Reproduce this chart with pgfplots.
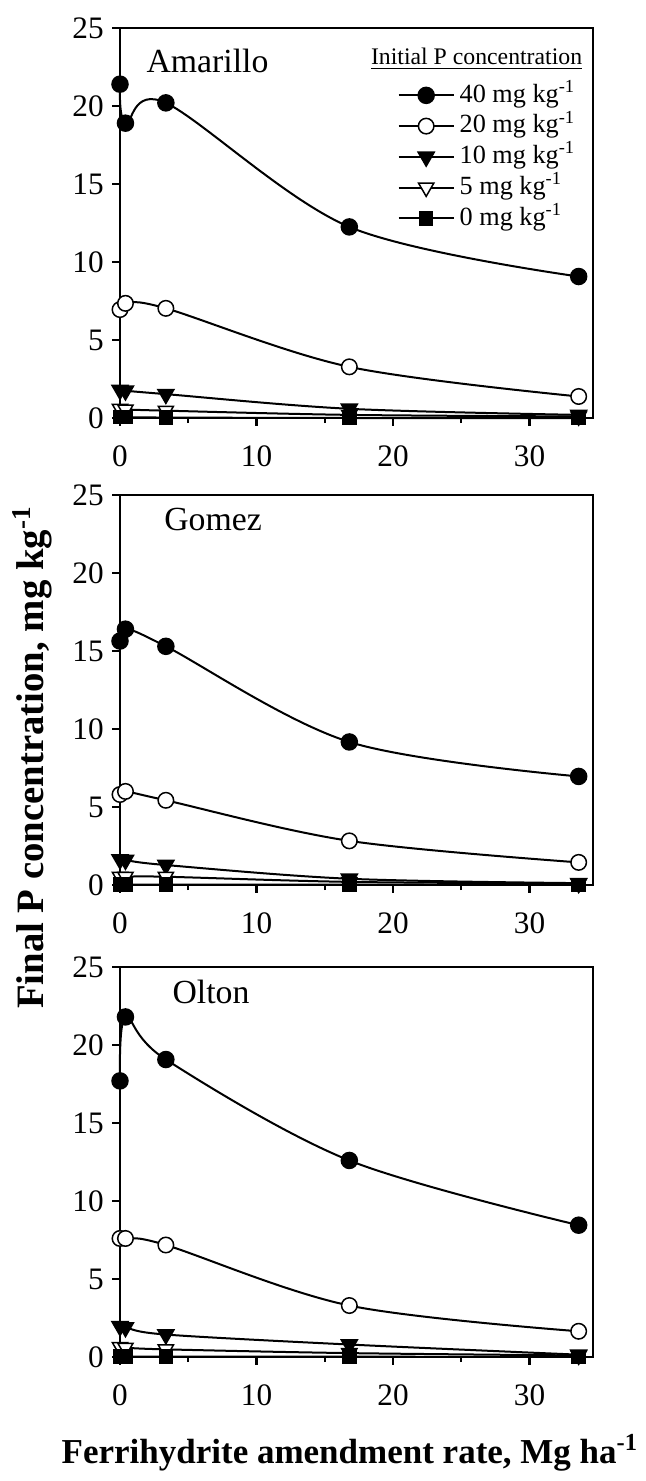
\documentclass[border=0pt]{standalone}
\usepackage{fontspec}
\setmainfont{Liberation Serif}
\usepackage{pgfplots}
\usepackage{pgfplotstable}
\pgfplotsset{compat=1.18}

% final P (mg/kg) vs ferrihydrite rate (Mg/ha), one table per soil
\pgfplotstableread{
x     c40    c20   c10   c5    c0
0     21.40  6.95  1.80  0.59  0.05
0.4   18.90  7.35  1.75  0.55  0.05
3.36  20.20  7.03  1.53  0.47  0.03
16.8  12.25  3.28  0.59  0.20  0.00
33.6   9.07  1.38  0.20  0.10  0.00
}\amarillo
\pgfplotstableread{
x     c40    c20   c10   c5    c0
0     15.64  5.80  1.64  0.53  0.03
0.4   16.40  6.00  1.60  0.53  0.03
3.36  15.30  5.43  1.28  0.53  0.03
16.8   9.17  2.83  0.40  0.20  0.02
33.6   6.96  1.45  0.12  0.10  0.01
}\gomez
\pgfplotstableread{
x     c40    c20   c10   c5    c0
0     17.70  7.60  1.97  0.64  0.03
0.4   21.80  7.60  1.90  0.60  0.03
3.36  19.07  7.18  1.44  0.49  0.03
16.8  12.60  3.30  0.80  0.25  0.02
33.6   8.45  1.65  0.15  0.10  0.01
}\olton

\pgfplotsset{
  panel/.style={
    anchor=north west, scale only axis, width=189.2pt, height=156pt,
    xmin=0, xmax=34.65, ymin=0, ymax=25,
    xtick={0,10,20,30}, minor xtick={5,15,25}, ytick={0,5,...,25},
    xtick pos=bottom, ytick pos=left, tick align=outside,
    major tick length=3pt, minor tick length=2pt,
    every tick/.style={black, line width=0.9pt},
    axis line style={line width=0.9pt},
    ticklabel style={font=\fontsize{12.5}{14}\selectfont},
    xticklabel style={yshift=-4.5pt},
    /pgf/number format/assume math mode=true,
    clip=false,
    every axis plot/.append style={black, line width=0.8pt, smooth, tension=0.55},
  },
  s40/.style={mark=*, mark size=3.1pt, mark options={fill=black}},
  s20/.style={mark=*, mark size=3.1pt, mark options={fill=white, line width=0.6pt}},
  s10/.style={mark=triangle*, mark size=3.5pt, mark options={rotate=180, fill=black}},
  s5/.style={mark=triangle*, mark size=3.5pt, mark options={rotate=180, fill=white, line width=0.6pt}},
  s0/.style={mark=square*, mark size=2.5pt, mark options={fill=black}},
}

\begin{document}
\begin{tikzpicture}
\useasboundingbox (0,0) rectangle (258pt,-592.4pt);

\begin{axis}[panel, at={(48pt,-11.2pt)},
  legend style={at={(0.586,0.868)}, anchor=north west, draw=none, fill=none,
    inner sep=0pt, row sep=0pt, font=\fontsize{10.5}{12}\selectfont,
    nodes={text height=8pt, text depth=2.5pt, inner ysep=0.9pt}, cells={anchor=west}},
  legend image code/.code={\draw[mark repeat=2,mark phase=2] plot coordinates {(0pt,0pt) (11pt,0pt) (22pt,0pt)};}]
\addplot[s40] table[x=x, y=c40] {\amarillo};
\addplot[s20] table[x=x, y=c20] {\amarillo};
\addplot[s10] table[x=x, y=c10] {\amarillo};
\addplot[s5]  table[x=x, y=c5]  {\amarillo};
\addplot[s0]  table[x=x, y=c0]  {\amarillo};
\legend{40 mg kg\textsuperscript{-1}, 20 mg kg\textsuperscript{-1}, 10 mg kg\textsuperscript{-1}, 5 mg kg\textsuperscript{-1}, 0 mg kg\textsuperscript{-1}}
\node[anchor=west, font=\fontsize{13.5}{14}\selectfont] at (axis cs:1.3,22.9) {Amarillo};
\node[anchor=east, font=\fontsize{9.5}{10}\selectfont] at (axis cs:34.5,23.0) {\underline{Initial P concentration}};
\end{axis}

\begin{axis}[panel, at={(48pt,-198pt)}]
\addplot[s40] table[x=x, y=c40] {\gomez};
\addplot[s20] table[x=x, y=c20] {\gomez};
\addplot[s10] table[x=x, y=c10] {\gomez};
\addplot[s5]  table[x=x, y=c5]  {\gomez};
\addplot[s0]  table[x=x, y=c0]  {\gomez};
\node[anchor=west, font=\fontsize{13.5}{14}\selectfont] at (axis cs:2.6,23.4) {Gomez};
\end{axis}

\begin{axis}[panel, at={(48pt,-386.8pt)}]
\addplot[s40] table[x=x, y=c40] {\olton};
\addplot[s20] table[x=x, y=c20] {\olton};
\addplot[s10] table[x=x, y=c10] {\olton};
\addplot[s5]  table[x=x, y=c5]  {\olton};
\addplot[s0]  table[x=x, y=c0]  {\olton};
\node[anchor=west, font=\fontsize{13.5}{14}\selectfont] at (axis cs:3.2,23.4) {Olton};
\end{axis}

\node[rotate=90, font=\bfseries\fontsize{15.5}{17}\selectfont] at (13pt,-303pt) {Final P concentration, mg kg\textsuperscript{-1}};
\node[font=\bfseries\fontsize{14}{16}\selectfont] at (140pt,-581pt) {Ferrihydrite amendment rate, Mg ha\textsuperscript{-1}};
\end{tikzpicture}
\end{document}
